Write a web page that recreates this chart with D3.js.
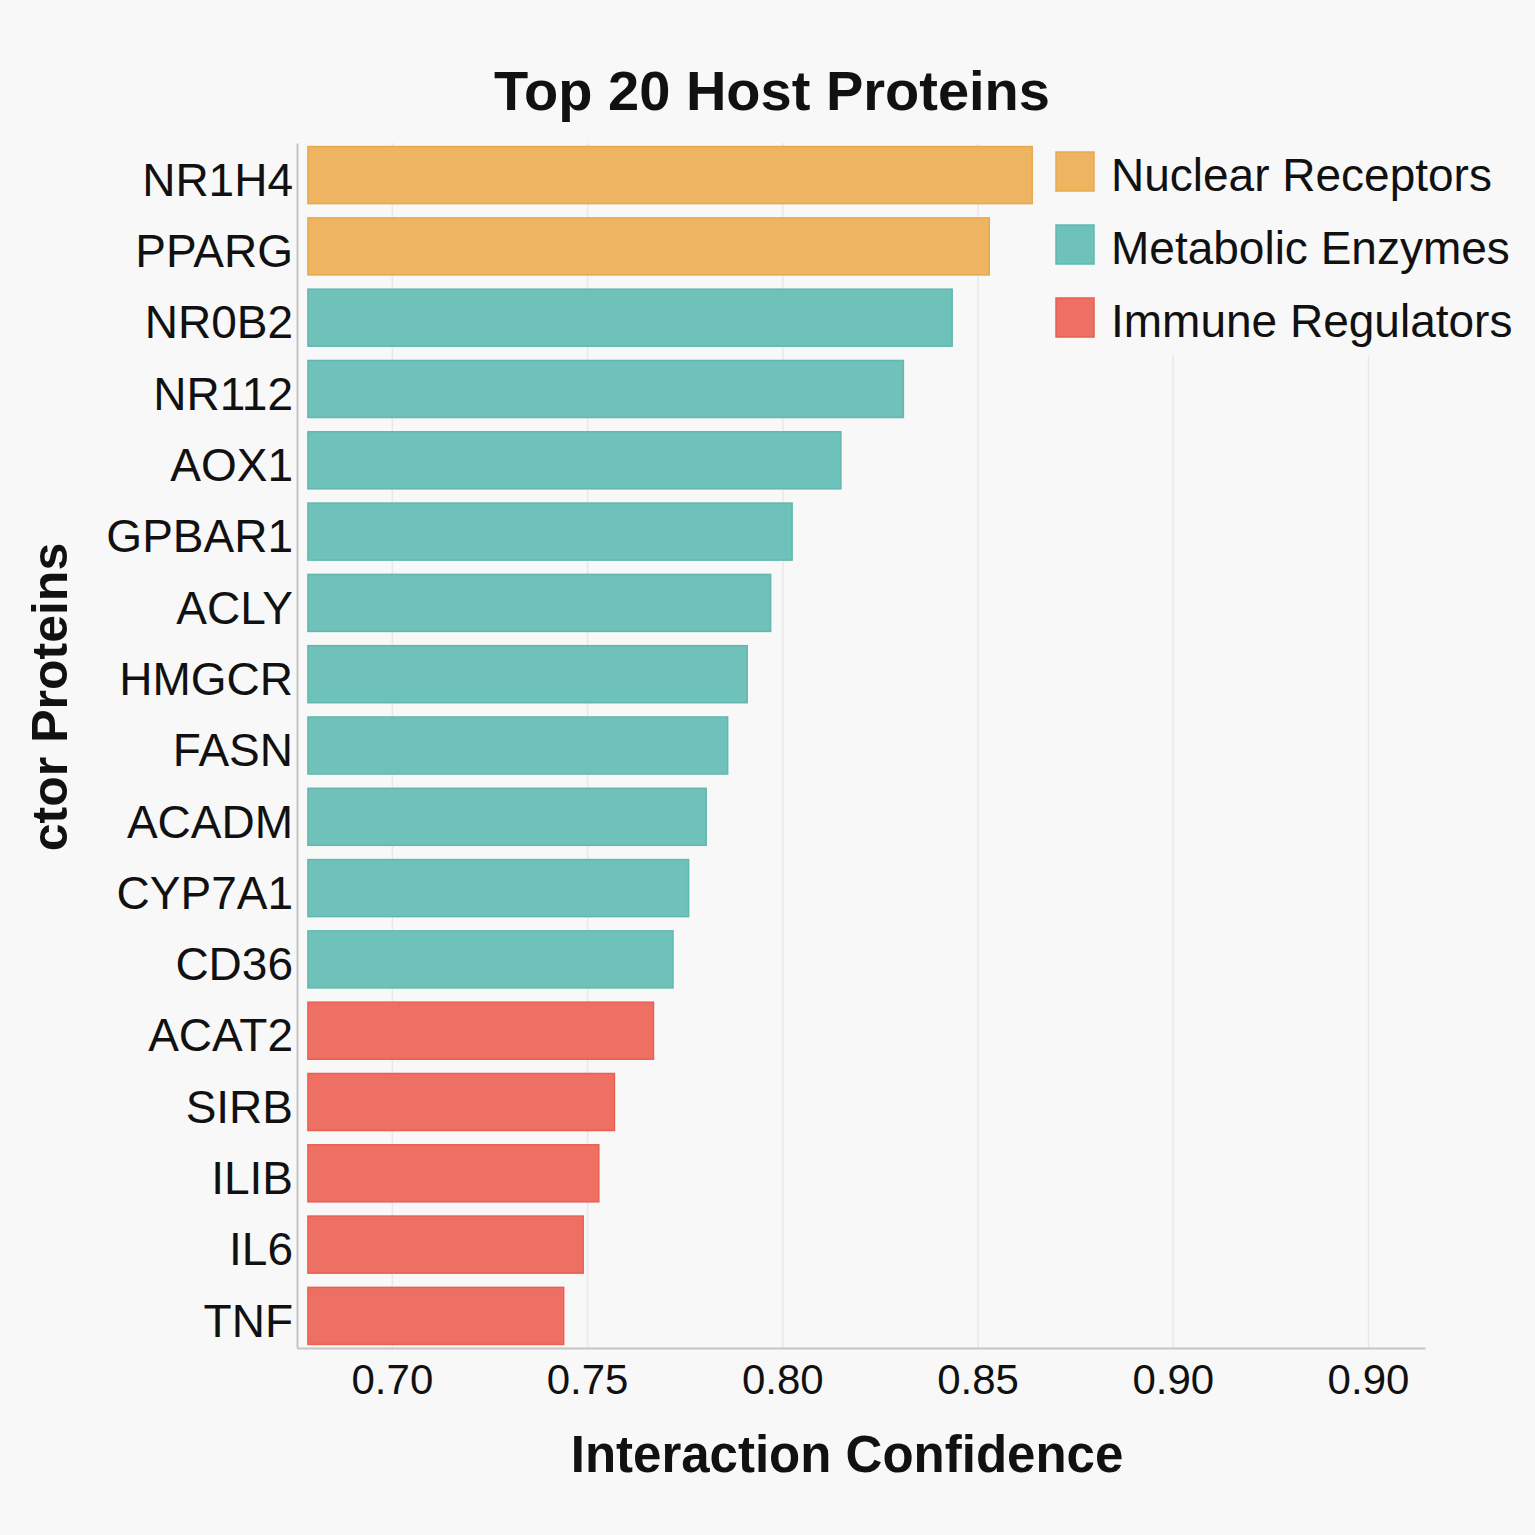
<!DOCTYPE html>
<html>
<head>
    <title>Top 20 Host Proteins</title>
    <meta charset="utf-8">
    <style type="text/css">
        body{
            margin:0;
            background:#f8f8f8;
        }
        svg text{
            font-family: "Liberation Sans", Arial, sans-serif;
            fill:#111;
        }
    </style>
    <script src="https://cdn.jsdelivr.net/npm/d3@7"></script>
</head>
<body>

<div id="chart"></div>

<script type="text/javascript">

// data
var proteins = ['NR1H4','PPARG','NR0B2','NR112','AOX1','GPBAR1','ACLY','HMGCR','FASN',
                'ACADM','CYP7A1','CD36','ACAT2','SIRB','ILIB','IL6','TNF'];
var confidence = [0.864, 0.853, 0.8435, 0.831, 0.815, 0.8025, 0.797, 0.791, 0.786,
                  0.7805, 0.776, 0.772, 0.767, 0.757, 0.753, 0.749, 0.744];
var groups = ['Nuclear Receptors','Nuclear Receptors',
              'Metabolic Enzymes','Metabolic Enzymes','Metabolic Enzymes','Metabolic Enzymes',
              'Metabolic Enzymes','Metabolic Enzymes','Metabolic Enzymes','Metabolic Enzymes',
              'Metabolic Enzymes','Metabolic Enzymes',
              'Immune Regulators','Immune Regulators','Immune Regulators','Immune Regulators','Immune Regulators'];
var categories = ['Nuclear Receptors','Metabolic Enzymes','Immune Regulators'];
var tickValues = [0.70, 0.75, 0.80, 0.85, 0.90, 0.95];
var tickLabels = ['0.70','0.75','0.80','0.85','0.90','0.90'];
var xDomain = [0.6757, 0.9646];
var barBase = 0.6785;


var width  = 1535,
    height = 1535;

var colour = d3.scaleOrdinal()
    .domain(categories)
    .range(['#eeb462', '#6ec2b9', '#ee7064']);
var edge = d3.scaleOrdinal()
    .domain(categories)
    .range(['#e9a84e', '#62b8ae', '#e9604f']);

var rows = proteins.map(function(p, i){
    return {name:p, value:confidence[i], group:groups[i]}
});

var svg = d3.select('#chart')
    .append('svg')
    .attr('width', width)
    .attr('height', height);

svg.append('rect')
    .attr('width', width)
    .attr('height', height)
    .attr('fill', '#f8f8f8');

var plotLeft = 297, plotRight = 1425, plotTop = 143, plotBottom = 1348;

var x = d3.scaleLinear()
    .domain(xDomain)
    .range([plotLeft, plotRight]);

var y = d3.scaleBand()
    .domain(proteins)
    .range([plotTop, plotBottom])
    .paddingInner(0.2)
    .paddingOuter(0.05);

// grid
var grid = svg.append('g')
    .attr('transform', 'translate(0,' + plotBottom + ')')
    .call(d3.axisBottom(x).tickValues(tickValues).tickSize(-(plotBottom - plotTop)).tickFormat(''));
grid.select('.domain').remove();
grid.selectAll('line').attr('stroke', '#e8e8e8').attr('stroke-width', 1.5);

// bars
svg.append('g')
    .selectAll('rect')
    .data(rows)
    .join('rect')
    .attr('x', x(barBase))
    .attr('y', function(d){ return y(d.name) })
    .attr('width', function(d){ return x(d.value) - x(barBase) })
    .attr('height', y.bandwidth())
    .attr('fill', function(d){ return colour(d.group) })
    .attr('stroke', function(d){ return edge(d.group) })
    .attr('stroke-width', 1.5);

// x axis
var xAxis = svg.append('g')
    .attr('transform', 'translate(0,' + plotBottom + ')')
    .call(d3.axisBottom(x)
        .tickValues(tickValues)
        .tickFormat(function(d, i){ return tickLabels[i] })
        .tickSize(0)
        .tickSizeOuter(0)
        .tickPadding(16));
xAxis.select('.domain').attr('stroke', '#c4c4c4').attr('stroke-width', 2);
xAxis.selectAll('text')
    .style('font-size', '42px')
    .attr('fill', '#111');

// y axis
var yAxis = svg.append('g')
    .attr('transform', 'translate(' + plotLeft + ',0)')
    .call(d3.axisLeft(y).tickSize(0).tickSizeOuter(0).tickPadding(4));
yAxis.select('.domain').attr('stroke', '#c4c4c4').attr('stroke-width', 2);
yAxis.selectAll('text')
    .style('font-size', '46px')
    .attr('dy', '0.45em')
    .attr('fill', '#111');

// titles
svg.append('text')
    .attr('x', 772)
    .attr('y', 110)
    .attr('text-anchor', 'middle')
    .style('font-size', '56px')
    .style('font-weight', 'bold')
    .text('Top 20 Host Proteins');

svg.append('text')
    .attr('x', 847)
    .attr('y', 1472)
    .attr('text-anchor', 'middle')
    .style('font-size', '51px')
    .style('font-weight', 'bold')
    .text('Interaction Confidence');

svg.append('text')
    .attr('transform', 'translate(67,697) rotate(-90)')
    .attr('text-anchor', 'middle')
    .style('font-size', '50px')
    .style('font-weight', 'bold')
    .text('ctor Proteins');

// legend
var legend = svg.append('g');
legend.append('rect')
    .attr('x', 1045)
    .attr('y', 140)
    .attr('width', 485)
    .attr('height', 215)
    .attr('fill', '#f8f8f8');

var item = legend.selectAll('g')
    .data(categories)
    .join('g')
    .attr('transform', function(d, i){ return 'translate(1056,' + (152 + i*73) + ')' });

item.append('rect')
    .attr('width', 38)
    .attr('height', 39)
    .attr('fill', function(d){ return colour(d) })
    .attr('stroke', function(d){ return edge(d) })
    .attr('stroke-width', 1.5);

item.append('text')
    .attr('x', 55)
    .attr('y', 39)
    .style('font-size', '46px')
    .text(function(d){ return d });

</script>

</body>
</html>
